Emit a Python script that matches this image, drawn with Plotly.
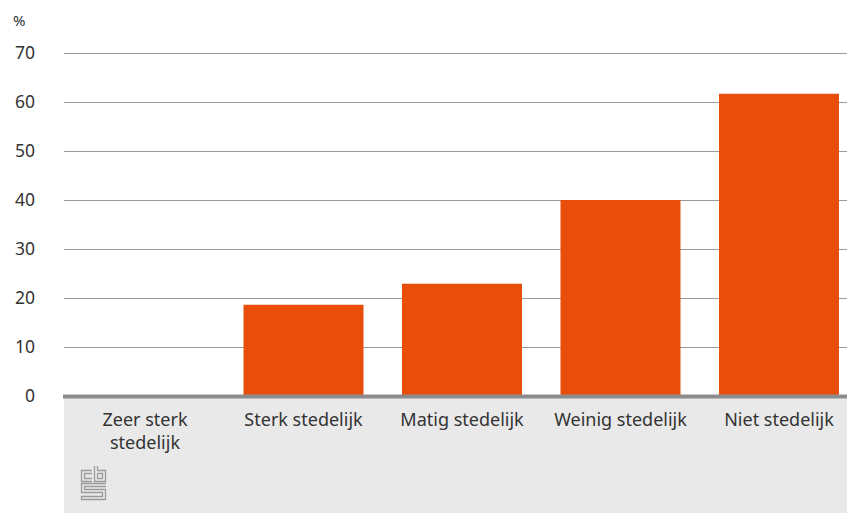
import plotly.graph_objects as go

categories = ["Zeer sterk<br>stedelijk", "Sterk stedelijk", "Matig stedelijk", "Weinig stedelijk", "Niet stedelijk"]
values = [0, 18.6, 22.9, 40.0, 61.7]
y_ticks = [0, 10, 20, 30, 40, 50, 60, 70]

W, H = 862, 513
OFF = 0  # body margin removed via post_script
Y_TOP = 70.6
PX_PER_UNIT = 343 / 70
L, B = 64, 117
T = int(round(396 - Y_TOP * PX_PER_UNIT))
PW, PH = W - L, H - T - B
Y_TOP = PH / PX_PER_UNIT
CAT_PX = 158.5
X0 = -0.5 - (65.75 - 64) / CAT_PX
X1 = X0 + PW / CAT_PX

def px(sx):
    return (sx - OFF - L) / PW

def py(sy):
    return (H - B - (sy - OFF)) / PH

fig = go.Figure()
fig.add_trace(go.Bar(
    x=list(range(len(categories))), y=values,
    marker=dict(color="#e84e0a", line=dict(width=0)),
    hoverinfo="skip",
))

font = "Noto Sans, Open Sans, sans-serif"
FS = 18
shapes = []
# grey band below the axis
shapes.append(dict(type="rect", xref="paper", yref="paper", x0=0, x1=1,
                   y0=py(530), y1=py(396), fillcolor="#e9e9e9", line=dict(width=0), layer="below"))
# zero line
shapes.append(dict(type="line", xref="paper", yref="paper", x0=px(63), x1=1,
                   y0=py(396.5), y1=py(396.5), line=dict(color="#8c8c8c", width=4)))

# cbs logo (approximate outline)
logo_paths = [
    # c
    [(92, 470.5), (81.5, 470.5), (81.5, 481.5), (92, 481.5)],
    [(92, 473.5), (84.5, 473.5), (84.5, 478.5), (92, 478.5)],
    # b
    [(94.5, 466), (94.5, 481.5), (105.5, 481.5), (105.5, 470.5), (97.5, 470.5), (97.5, 466)],
    [(97.5, 473.5), (102.5, 473.5), (102.5, 478.5), (97.5, 478.5), (97.5, 473.5)],
    # S
    [(106, 483.5), (81.5, 483.5), (81.5, 492.5), (102.5, 492.5), (102.5, 496.5), (81.5, 496.5), (81.5, 499.5), (105.5, 499.5), (105.5, 489.5), (84.5, 489.5), (84.5, 486.5), (106, 486.5)],
]
for pts in logo_paths:
    d = "M " + " L ".join(f"{px(a):.5f},{py(b):.5f}" for a, b in pts)
    shapes.append(dict(type="path", xref="paper", yref="paper", path=d,
                       line=dict(color="#9a9a9a", width=1.3)))

fig.update_layout(
    width=W, height=H,
    margin=dict(l=L, r=0, t=T, b=B),
    paper_bgcolor="white", plot_bgcolor="white",
    showlegend=False,
    bargap=0.243,
    font=dict(family=font, size=FS, color="#333333"),
    xaxis=dict(
        tickmode="array", tickvals=list(range(len(categories))), ticktext=categories,
        range=[X0, X1], showgrid=False, zeroline=False, showline=False,
        ticks="", tickfont=dict(size=FS, color="#333333"), ticklabelstandoff=11,
        fixedrange=True,
    ),
    yaxis=dict(
        range=[0, Y_TOP], tickmode="array", tickvals=y_ticks,
        showgrid=True, gridcolor="#9a9a9a", gridwidth=1,
        zeroline=False, showline=False, ticks="",
        tickfont=dict(size=17.5, color="#333333"), ticklabelstandoff=28,
        fixedrange=True,
    ),
    shapes=shapes,
    annotations=[dict(text="%", xref="paper", yref="paper", x=px(11), y=py(20),
                      xanchor="left", yanchor="middle", showarrow=False,
                      font=dict(size=15, color="#333333", family=font))],
)

fig.write_html("out.html", config={"displayModeBar": False},
               post_script="document.body.style.margin='0';document.body.style.overflow='hidden';")
